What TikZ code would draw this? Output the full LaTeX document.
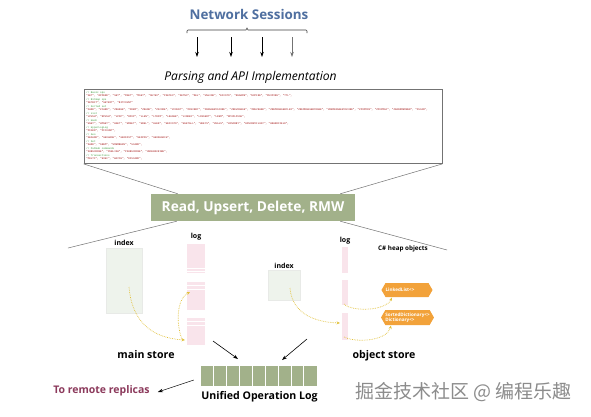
\documentclass[tikz,border=0pt]{standalone}
\usepackage{fontspec}
\setmainfont{Open Sans}
\setmonofont{Liberation Mono}
\newfontfamily\cjk{Noto Sans CJK SC}
\usetikzlibrary{arrows.meta,shapes.symbols,calc}
\definecolor{netblue}{HTML}{4F6FA0}
\definecolor{sage}{HTML}{A2B18A}
\definecolor{maroonc}{HTML}{8C3A5C}
\definecolor{idxfill}{HTML}{EEF3EC}
\definecolor{logfill}{HTML}{F9E4EB}
\definecolor{goldc}{HTML}{E2C13A}
\definecolor{heaporange}{HTML}{F2A23A}
\definecolor{codegreen}{HTML}{3A9A3A}
\definecolor{codered}{HTML}{A31515}
\newcommand\cmtx[1]{\textcolor{codegreen}{#1}}
\newcommand\strx[1]{\textcolor{codered}{#1}}
\tikzset{
  lbl/.style={font=\bfseries\fontsize{7}{8}\selectfont, inner sep=0},
  idxbox/.style={draw=idxfill!80!gray!60, line width=0.3, fill=idxfill, inner sep=0},
  logbox/.style={fill=logfill, inner sep=0},
  flow/.style={goldc, densely dotted, line width=0.7, -{Stealth[length=3.5pt,width=3pt]}},
  darrow/.style={black, line width=0.6, -{Stealth[length=5pt,width=3.5pt]}},
  heap/.style={signal, signal to=west and east, signal pointer angle=120, fill=heaporange, text=white,
     font=\bfseries\fontsize{4.6}{5.4}\selectfont, align=left, inner sep=0, anchor=center},
  big/.style={font=\bfseries\fontsize{10.6}{12}\selectfont, inner sep=0},
}
\begin{document}
\begin{tikzpicture}[x=1pt,y=-1pt]
\useasboundingbox[fill=white] (0,0) rectangle (591,416);

% title
\node[font=\bfseries\fontsize{13.4}{15}\selectfont, text=netblue, inner sep=0] (net) at (249,14) {Network Sessions};
\coordinate (brL) at (187,33);
\coordinate (brR) at (307,33);
\draw[line width=0.6, black!75] (brL) -- ++(0,-2) -- ++(1,-1) -- (246,30) -- (247,28) -- (248,30) -- (306,30) -- ++(1,1) -- (brR);
\foreach \i/\x/\c in {1/197/black,2/231/black,3/262/black,4/292/black!55}{
  \coordinate (s\i) at (\x,37);
  \coordinate (e\i) at (\x,57);
  \draw[line width=0.7, \c, -{Stealth[length=5pt,width=3.5pt]}] (s\i) -- (e\i);
}
\node[font=\itshape\fontsize{12.1}{14}\selectfont, inner sep=0] (parse) at (250.5,77) {Parsing and API Implementation};

% code box
\node[draw=black!55, line width=0.8, minimum width=358, minimum height=74, inner sep=0] (codebox) at (263,126.5) {};
\node[anchor=north west, inner sep=0, align=left, font=\ttfamily\fontsize{2.6}{3.5}\selectfont] (code) at (86,91) {%
\cmtx{// Basic ops}\\
\strx{"GET", "APPEND", "SET", "MGET", "MSET", "SETEX", "PSETEX", "SETNX", "DEL", "UNLINK", "EXISTS", "RENAME", "EXPIRE", "PEXPIRE", "TTL",}\\
\cmtx{// Bitmap ops}\\
\strx{"SETBIT", "GETBIT", "BITCOUNT"}\\
\cmtx{// Sorted set}\\
\strx{"ZADD", "ZCARD", "ZRANGE", "ZREM", "ZRANK", "ZSCORE", "ZCOUNT", "ZINCRBY", "ZRANGEBYSCORE", "ZREVRANGE", "ZREVRANK", "ZREMRANGEBYLEX", "ZREMRANGEBYRANK", "ZREMRANGEBYSCORE", "ZPOPMIN", "ZPOPMAX", "ZRANDMEMBER", "ZSCAN",}\\
\cmtx{// List}\\
\strx{"LPUSH", "RPUSH", "LPOP", "RPOP", "LLEN", "LTRIM", "LRANGE", "LINDEX", "LINSERT", "LREM", "RPOPLPUSH",}\\
\cmtx{// Hash}\\
\strx{"HSET", "HMSET", "HGET", "HMGET", "HDEL", "HLEN", "HEXISTS", "HGETALL", "HKEYS", "HVALS", "HINCRBY", "HINCRBYFLOAT", "HRANDFIELD",}\\
\cmtx{// HyperLogLog}\\
\strx{"PFADD", "PFCOUNT",}\\
\cmtx{// Geo}\\
\strx{"GEOADD", "GEOHASH", "GEODIST", "GEOPOS", "GEOSEARCH",}\\
\cmtx{// Set}\\
\strx{"SADD", "SREM", "SMEMBERS", "SCARD",}\\
\cmtx{// PubSub commands}\\
\strx{"SUBSCRIBE", "PUBLISH", "PSUBSCRIBE", "UNSUBSCRIBE",}\\
\cmtx{// Transactions}\\
\strx{"MULTI", "EXEC", "WATCH", "DISCARD",}};

% operations box
\node[fill=sage, text=white, minimum width=204, minimum height=27, inner sep=0,
      font=\bfseries\fontsize{13.7}{16}\selectfont] (ops) at (253,207.5) {Read, Upsert, Delete, RMW};
\draw[black!55, line width=0.5] (codebox.south west) -- ($(ops.north west)+(27,0)$);
\draw[black!55, line width=0.5] (codebox.south east) -- ($(ops.north east)+(-15,0)$);
\coordinate (fanL) at (68,248);
\coordinate (fanR) at (447,250);
\draw[black!55, line width=0.5] ($(ops.south west)+(26,0)$) -- (fanL);
\draw[black!55, line width=0.5] ($(ops.south east)+(-15,0)$) -- (fanR);

% main store
\node[idxbox, minimum width=36, minimum height=65] (midx) at (124,280.5) {};
\node[lbl, anchor=south] (midxl) at (124,246) {index};
\node[lbl] (mlogl) at (196,237) {log};
\node[logbox, minimum width=18, minimum height=29] (mlog1) at (196,258.5) {};
\node[logbox, minimum width=18, minimum height=28] (mlog2) at (196,296) {};
\node[logbox, minimum width=18, minimum height=27] (mlog3) at (196,331.5) {};
\foreach \y in {268.5,271.5,285,289,321.5,325}{
  \draw[white, line width=0.6] (187,\y) -- (205,\y);
}
\coordinate (mc1) at (129,287);
\coordinate (mc2) at (185,340);
\coordinate (mc3) at (182,339);
\coordinate (mc4) at (190,292);
\draw[flow] (mc1) .. controls (132,322) and (152,338) .. (mc2);
\draw[flow] (mc3) .. controls (177,328) and (175,300) .. (mc4);
\node[big] (mstore) at (146,355) {main store};

% object store
\node[idxbox, minimum width=32, minimum height=30] (oidx) at (284,285) {};
\node[lbl, anchor=south] (oidxl) at (284,268.5) {index};
\node[lbl] (ologl) at (345,241) {log};
\node[logbox, minimum width=6, minimum height=26] (olog1) at (345,260) {};
\node[logbox, minimum width=6, minimum height=25] (olog2) at (345,292.5) {};
\node[logbox, minimum width=6, minimum height=27] (olog3) at (345,326.5) {};
\node[font=\bfseries\fontsize{6.3}{7}\selectfont, inner sep=0] (heapl) at (403,249) {C\# heap objects};
\node[heap, minimum width=50, minimum height=14] (ll) at (407,290) {LinkedList<>\hspace{14pt}};
\node[heap, minimum width=51, minimum height=15] (sd) at (407.5,317.5) {SortedDictionary<>\\Dictionary<>\hspace{18pt}};
\coordinate (oc1) at (290,288);
\coordinate (oc2) at (340,323);
\draw[flow] (oc1) .. controls (292,312) and (312,322) .. (oc2);
\coordinate (oc3) at (344,304);
\coordinate (oc4) at (392,297.5);
\draw[flow] (oc3) .. controls (352,312) and (386,311) .. (oc4);
\coordinate (oc5) at (344,337);
\coordinate (oc6) at (391,325.5);
\draw[flow] (oc5) .. controls (356,343) and (387,341) .. (oc6);
\node[big] (ostore) at (384,356) {object store};

% unified log
\node[fill=sage, minimum width=116, minimum height=20, inner sep=0] (ulog) at (259,376) {};
\foreach \k in {1,...,8}{
  \draw[white, line width=0.9] ($(ulog.north west)+(\k*12.89,0)$) -- ($(ulog.south west)+(\k*12.89,0)$);
}
\node[big] (ulogl) at (259.5,397) {Unified Operation Log};
\coordinate (ma) at (213,341);
\coordinate (mb) at (238,359);
\draw[darrow] (ma) -- (mb);
\coordinate (oa) at (307,339);
\coordinate (ob) at (282,360);
\draw[darrow] (oa) -- (ob);
\node[font=\bfseries\fontsize{10.5}{12}\selectfont, text=maroonc, inner sep=0] (repl) at (101.5,391) {To remote replicas};
\draw[darrow, line width=0.5] ($(ulog.west)+(-7,4)$) -- ($(repl.east)+(8,1)$);

% watermark
\node[font=\cjk\fontsize{19}{21}\selectfont, text=black!45, inner sep=0] (wm) at (463.5,392) {掘金技术社区 @ 编程乐趣};
\end{tikzpicture}
\end{document}
